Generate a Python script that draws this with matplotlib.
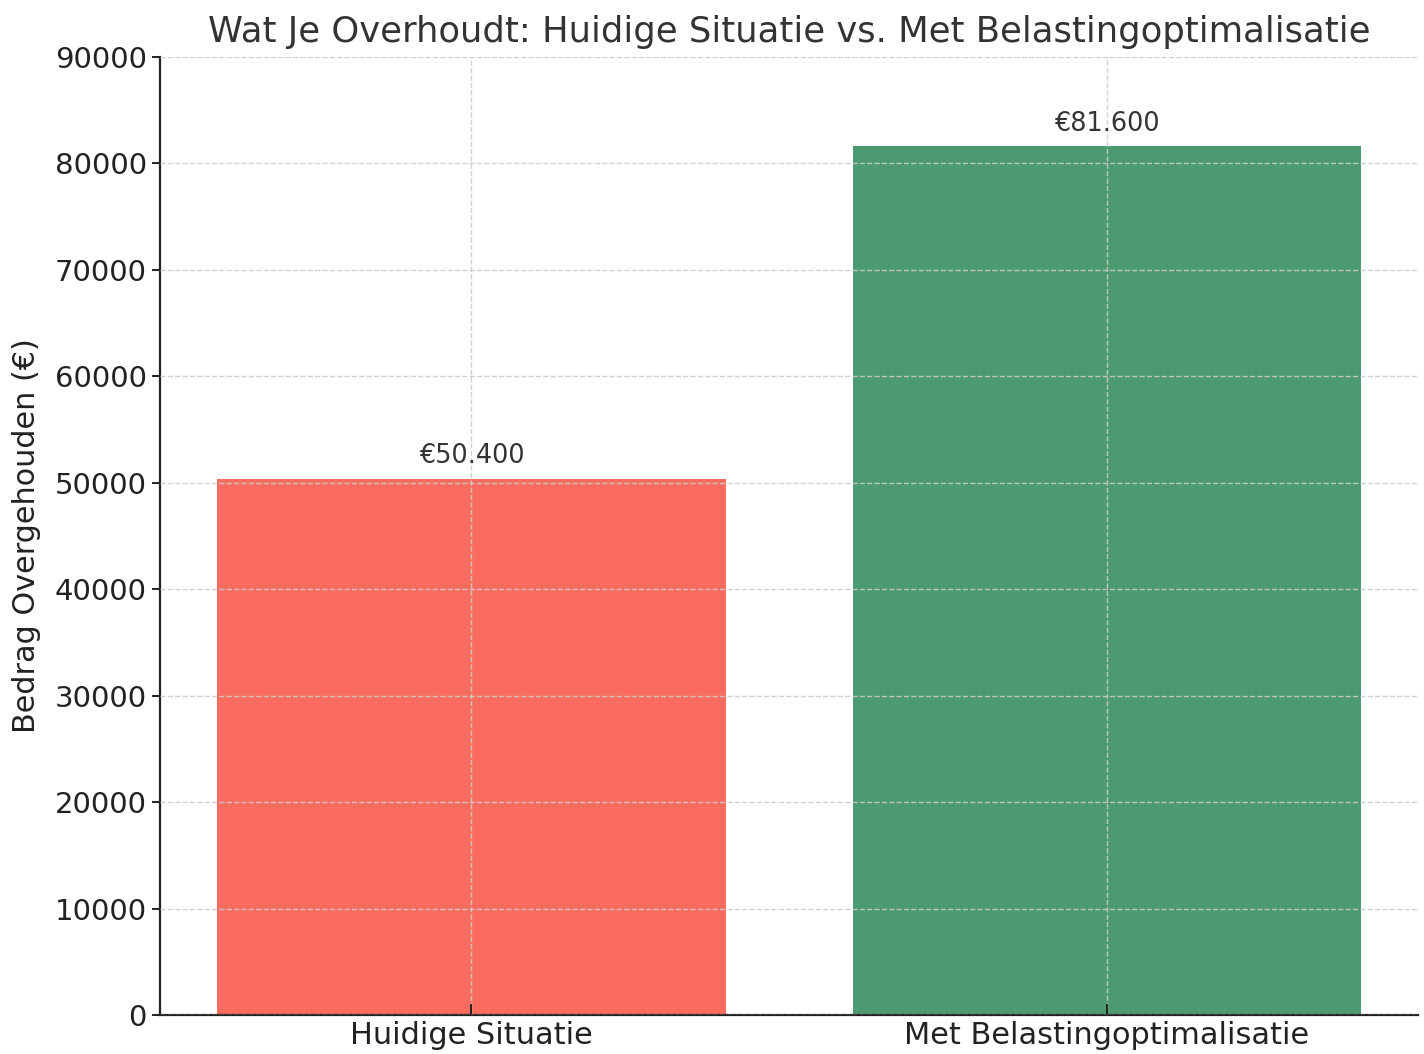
import matplotlib
matplotlib.use("Agg")
import matplotlib.pyplot as plt

categories = ["Huidige Situatie", "Met Belastingoptimalisatie"]
values = [50400, 81600]
labels = ["€50.400", "€81.600"]
colors = ["#F96C5F", "#4C9A6F"]

plt.rcParams['font.family'] = 'DejaVu Sans'
plt.rcParams['text.color'] = '#333333'

fig = plt.figure(figsize=(14.24, 10.54), dpi=100)
ax = fig.add_axes([0.1124, 0.037, 0.8834, 0.9089])

bars = ax.bar(categories, values, color=colors, width=0.8)
for bar, lab in zip(bars, labels):
    ax.text(bar.get_x() + bar.get_width() / 2, bar.get_height() + 900, lab,
            ha='center', va='bottom', fontsize=18.4, color='#333333')

ax.set_xlim(-0.49, 1.49)
ax.set_ylim(0, 90000)
ax.set_yticks(range(0, 90001, 10000))
ax.grid(True, linestyle='--', color='#cccccc', linewidth=1.0, alpha=0.9)
ax.set_axisbelow(False)

for s in ['top', 'right']:
    ax.spines[s].set_visible(False)
for s in ['left', 'bottom']:
    ax.spines[s].set_linewidth(1.6)
    ax.spines[s].set_color('#222222')

ax.tick_params(axis='y', labelsize=21, length=6, width=1.4, colors='#222222', labelcolor='#222222')
ax.tick_params(axis='x', labelsize=21.9, length=8, width=1.4, direction='in', colors='#222222', labelcolor='#222222', pad=4)
ax.set_ylabel("Bedrag Overgehouden (€)", fontsize=21.8, color='#222222', labelpad=10)
ax.set_title("Wat Je Overhoudt: Huidige Situatie vs. Met Belastingoptimalisatie",
             fontsize=25.5, color='#333333', pad=11)

fig.savefig("out.png", dpi=100)
